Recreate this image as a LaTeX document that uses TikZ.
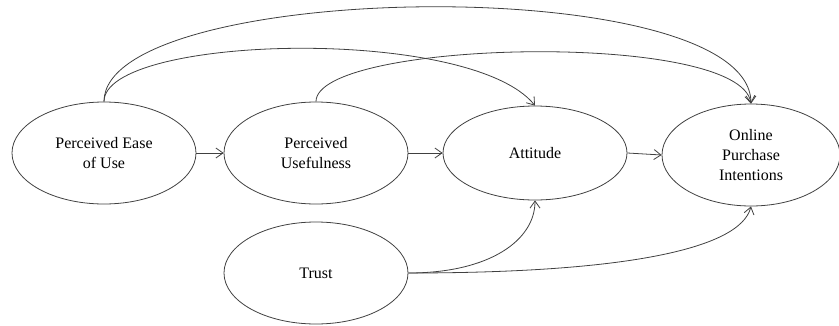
\documentclass[tikz,border=0pt]{standalone}
\usepackage{fontspec}
\setmainfont{Liberation Serif}
\usetikzlibrary{shapes.geometric,arrows.meta}
\definecolor{linegray}{HTML}{404040}
\tikzset{
  construct/.style={ellipse,draw=linegray,line width=0.8pt,inner sep=0pt,
    minimum width=184pt,minimum height=102pt,align=center,
    font=\fontsize{16}{20}\selectfont},
  link/.style={draw=linegray,line width=0.8pt,-{Straight Barb[length=7pt,width=10pt]}}
}
\begin{document}
\begin{tikzpicture}[x=1pt,y=-1pt]
\useasboundingbox (0,0) rectangle (839,325);
\node[construct] (peou) at (104,153) {Perceived Ease\\of Use};
\node[construct] (pu) at (316,153) {Perceived\\Usefulness};
\node[construct,minimum height=94pt] (att) at (535,153) {Attitude};
\node[construct,minimum width=178pt] (opi) at (751,155) {Online\\Purchase\\Intentions};
\node[construct] (trust) at (316,273) {Trust};
\draw[link] (peou.east) -- (pu.west);
\draw[link] (pu.east) -- (att.west);
\draw[link] (att.east) -- (opi.west);
\draw[link] (peou.north) .. controls (104,35) and (470,25) .. (att.north);
\draw[link] (peou.north) .. controls (104,-20) and (750,-30) .. (opi.north);
\draw[link] (pu.north) .. controls (316,40) and (740,30) .. (opi.north);
\draw[link] (trust.east) .. controls (490,273) and (535,240) .. (att.south);
\draw[link] (trust.east) .. controls (620,273) and (740,250) .. (opi.south);
\end{tikzpicture}
\end{document}
